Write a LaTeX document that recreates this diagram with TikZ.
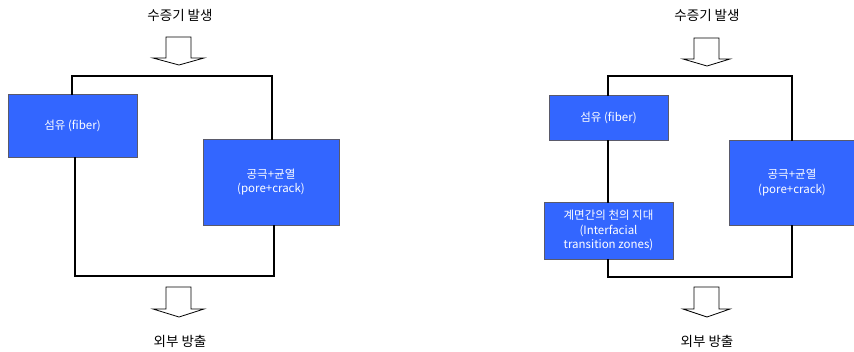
\documentclass[tikz,border=0pt]{standalone}
\usepackage{fontspec}
\setmainfont{Noto Sans CJK KR}
\definecolor{boxblue}{HTML}{3366FF}
\definecolor{boxedge}{HTML}{5A5A6A}
\begin{document}
\begin{tikzpicture}[x=1pt,y=-1pt,
  blk/.style={draw=boxedge,line width=1pt,fill=boxblue,text=white,font=\fontsize{11.5}{14.5}\selectfont,align=center,inner sep=0pt},
  lbl/.style={font=\fontsize{13.5}{15}\selectfont,inner sep=0pt},
  frame/.style={line width=2pt,line cap=rect},
  hollow/.style={draw=black,line width=0.8pt,fill=white,line join=miter}]
\useasboundingbox (0,0) rectangle (854,351);
% ---------- left panel ----------
\node[lbl] (tl) at (180,15) {수증기 발생};
\node[lbl] (bl) at (180,341) {외부 방출};
\draw[hollow] (166,37) -- (191,37) -- (191,58) -- (204,58) -- (179,65) -- (153,58) -- (166,58) -- cycle;
\draw[hollow] (166,287) -- (191,287) -- (191,309) -- (204,309) -- (179,317) -- (153,309) -- (166,309) -- cycle;
\coordinate (l1) at (72,76);
\coordinate (l2) at (272,76);
\coordinate (l3) at (75,276);
\coordinate (l4) at (274,276);
\node[blk,minimum width=129pt,minimum height=63pt] (fibL) at (72.5,125.5) {섬유 (fiber)};
\node[blk,minimum width=136pt,minimum height=86pt] (porL) at (271,182) {공극+균열\\(pore+crack)};
\draw[frame] (fibL.north -| l1) -- (l1) -- (l2) -- (porL.north -| l2);
\draw[frame] (fibL.south -| l3) -- (l3) -- (l4) -- (porL.south -| l4);
% ---------- right panel ----------
\node[lbl] (tr) at (707,15) {수증기 발생};
\node[lbl] (br) at (707,341) {외부 방출};
\draw[hollow] (694,38) -- (719,38) -- (719,59) -- (730,59) -- (707,66) -- (683,59) -- (694,59) -- cycle;
\draw[hollow] (694,287) -- (719,287) -- (719,309) -- (730,309) -- (707,317) -- (683,309) -- (694,309) -- cycle;
\coordinate (r1) at (608,76);
\coordinate (r2) at (792,76);
\coordinate (r3) at (608,277);
\coordinate (r4) at (792,277);
\node[blk,minimum width=119pt,minimum height=45pt] (fibR) at (608.5,117.5) {섬유 (fiber)};
\node[blk,minimum width=129pt,minimum height=57pt] (itzR) at (608.5,230.5) {계면간의 천의 지대\\(Interfacial\\transition zones)};
\node[blk,minimum width=125pt,minimum height=85pt] (porR) at (792,182.5) {공극+균열\\(pore+crack)};
\draw[frame] (fibR.north -| r1) -- (r1) -- (r2) -- (porR.north -| r2);
\draw[frame] (fibR.south -| r1) -- (itzR.north -| r1);
\draw[frame] (itzR.south -| r3) -- (r3) -- (r4) -- (porR.south -| r4);
\end{tikzpicture}
\end{document}
